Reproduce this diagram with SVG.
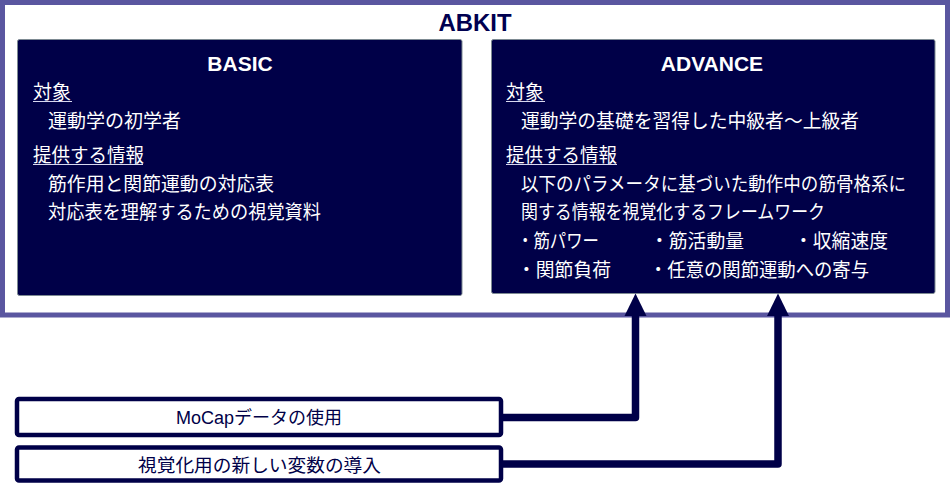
<svg xmlns="http://www.w3.org/2000/svg" width="950" height="484" viewBox="0 0 950 484">
<style>
.frame{fill:#ffffff;stroke:#5a56a0;stroke-width:5}
.panel{fill:#000048;stroke:#7d8a92;stroke-width:1}
.title{font-family:"Liberation Sans","Noto Sans CJK JP",sans-serif;font-weight:bold;text-anchor:middle}
.t{font-family:"Liberation Sans","Noto Sans CJK JP",sans-serif;font-size:19px;fill:#ffffff}
.ul{stroke:#d8d8f0;stroke-width:1.2}
.inbox{fill:#ffffff;stroke:#000048;stroke-width:4.5}
.bt{font-family:"Liberation Sans","Noto Sans CJK JP",sans-serif;font-size:18px;fill:#000048;text-anchor:middle}
.conn{fill:none;stroke:#000048;stroke-width:7.5;stroke-linejoin:round}
.head{fill:#000048}
</style>
<g id="abkit">
<rect class="frame" x="2.5" y="2.5" width="945" height="312.5"/>
<text class="title" x="475" y="31" font-size="23" fill="#000050" textLength="73" lengthAdjust="spacingAndGlyphs">ABKIT</text>
</g>
<g id="basic">
<rect class="panel" x="17.5" y="39.5" width="444.5" height="256" rx="2"/>
<text class="title" x="240" y="71" font-size="21" fill="#ffffff">BASIC</text>
<text class="t" x="33" y="99">対象</text>
<line class="ul" x1="33" y1="101.5" x2="72" y2="101.5"/>
<text class="t" x="48" y="128">運動学の初学者</text>
<text class="t" x="33" y="162" textLength="111" lengthAdjust="spacingAndGlyphs">提供する情報</text>
<line class="ul" x1="33" y1="164.5" x2="143" y2="164.5"/>
<text class="t" x="48" y="191" textLength="226" lengthAdjust="spacingAndGlyphs">筋作用と関節運動の対応表</text>
<text class="t" x="48" y="219" textLength="273" lengthAdjust="spacingAndGlyphs">対応表を理解するための視覚資料</text>
</g>
<g id="advance">
<rect class="panel" x="491.5" y="39.5" width="443.5" height="254" rx="2"/>
<text class="title" x="712" y="71" font-size="21" fill="#ffffff">ADVANCE</text>
<text class="t" x="506" y="99">対象</text>
<line class="ul" x1="506" y1="101.5" x2="545" y2="101.5"/>
<text class="t" x="521" y="128" textLength="338" lengthAdjust="spacingAndGlyphs">運動学の基礎を習得した中級者〜上級者</text>
<text class="t" x="506" y="162" textLength="111" lengthAdjust="spacingAndGlyphs">提供する情報</text>
<line class="ul" x1="506" y1="164.5" x2="617" y2="164.5"/>
<text class="t" x="521" y="191" textLength="385" lengthAdjust="spacingAndGlyphs">以下のパラメータに基づいた動作中の筋骨格系に</text>
<text class="t" x="521" y="219" textLength="304" lengthAdjust="spacingAndGlyphs">関する情報を視覚化するフレームワーク</text>
<text class="t" x="517" y="248" textLength="82" lengthAdjust="spacingAndGlyphs">・筋パワー</text>
<text class="t" x="650" y="248" textLength="94" lengthAdjust="spacingAndGlyphs">・筋活動量</text>
<text class="t" x="794" y="248" textLength="94" lengthAdjust="spacingAndGlyphs">・収縮速度</text>
<text class="t" x="517" y="277" textLength="94" lengthAdjust="spacingAndGlyphs">・関節負荷</text>
<text class="t" x="649" y="277" textLength="220" lengthAdjust="spacingAndGlyphs">・任意の関節運動への寄与</text>
</g>
<g id="mocap">
<rect class="inbox" x="17" y="399" width="484" height="36" rx="2"/>
<text class="bt" x="259" y="424">MoCapデータの使用</text>
</g>
<g id="newvars">
<rect class="inbox" x="17" y="447.5" width="484" height="33" rx="2"/>
<text class="bt" x="259.5" y="471.5" textLength="243" lengthAdjust="spacingAndGlyphs">視覚化用の新しい変数の導入</text>
</g>
<g id="connectors">
<path class="conn" d="M503,417.5 H635.5 V314"/>
<polygon class="head" points="635.5,293.5 646.5,316 624.5,316"/>
<path class="conn" d="M503,464 H778 V314"/>
<polygon class="head" points="778,293.5 789,316 767,316"/>
</g>
</svg>
